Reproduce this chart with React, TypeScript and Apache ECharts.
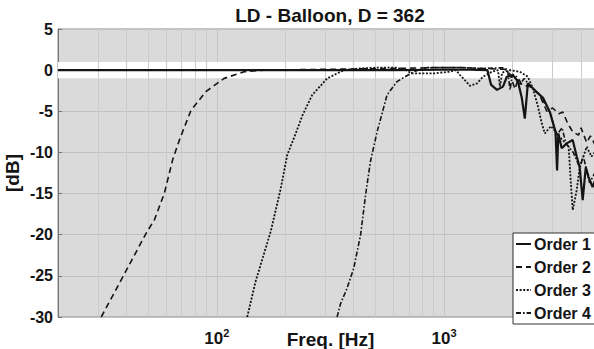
import React, { useEffect, useRef } from "react";
import * as echarts from "echarts";

const TITLE = "LD - Balloon, D = 362";
const SERIES_NAMES = ["Order 1", "Order 2", "Order 3", "Order 4"];

const FREQ_1 = [20, 100, 300, 600, 1000, 1300, 1550, 1610, 1708, 1815, 1888, 2008, 2113, 2197, 2265, 2335, 2540, 2730, 2920, 3090, 3140, 3180, 3290, 3461, 3679, 3831, 3947, 4070, 4200, 4320, 4500, 4600];
const DB_1 = [0, 0, 0, 0, 0.05, 0.05, 0, -1.8, -2.4, -2.0, -0.8, -0.6, -1.4, -3.4, -5.9, -1.6, -2.6, -3.4, -5.1, -7.5, -12.2, -7.7, -9.5, -8.9, -8.5, -10.5, -11.8, -15.8, -11.8, -13.0, -14.2, -13.5];

const FREQ_2 = [31.0, 38.6, 48.9, 53.1, 58.7, 63.9, 68.4, 76.9, 89.5, 107.6, 131.8, 160.7, 300, 600, 900, 1200, 1500, 1850, 1950, 2050, 2120, 2200, 2400, 2630, 2830, 3000, 3200, 3330, 3500, 3680, 3900, 4000, 4240, 4400, 4600];
const DB_2 = [-30, -25.1, -19.8, -18.2, -15.0, -10.9, -8.5, -4.9, -2.6, -1.0, -0.2, 0, 0.1, 0.2, 0.3, 0.3, 0.2, 0.1, -0.5, -2.3, -1.0, -1.8, -2.0, -3.0, -5.0, -4.6, -5.3, -5.1, -6.5, -7.5, -7.9, -7.0, -8.8, -8.0, -9.0];

const FREQ_3 = [136, 148, 172.6, 191, 204, 218, 238, 263, 306, 362, 420, 500, 620, 680, 720, 900, 1050, 1130, 1175, 1300, 1396, 1483, 1620, 1726, 1760, 1800, 1945, 2153, 2335, 2454, 2581, 2680, 2773, 2950, 3200, 3530, 3610, 3680, 3830, 3950, 4240, 4450, 4600];
const DB_3 = [-30, -25.7, -19.6, -14.4, -10.3, -8.3, -5.5, -3.0, -1.0, 0, 0.2, 0.3, 0.3, 0.0, -0.4, -0.4, -0.2, 0, -0.6, -1.9, -1.6, -0.8, -0.2, 0, -2.0, -0.3, 0, -0.2, -0.8, -2.2, -4.3, -6.3, -7.7, -6.8, -8.0, -9.3, -13.7, -17.0, -14.6, -11.8, -9.3, -10.5, -10.0];

const FREQ_4 = [338, 350, 374, 400, 429, 451, 474, 507, 561, 620, 733, 839, 1000, 1200, 1500, 1800, 1900, 1950, 2000, 2084, 2150, 2250, 2427, 2634, 2918, 3131, 3300, 3435, 3700, 3947, 4100, 4365, 4600];
const DB_4 = [-30, -28.4, -26.5, -24.1, -20.0, -15.2, -11.1, -7.5, -3.0, -1.4, -0.2, 0.3, 0.3, 0.3, 0.2, 0.3, 0.1, -2.4, -0.5, -0.8, -1.8, -1.0, -2.2, -3.0, -5.1, -7.9, -7.0, -8.9, -10.0, -11.8, -10.5, -13.7, -12.5];

const MINOR_GRID_FREQS = [30, 40, 50, 60, 70, 80, 90, 200, 300, 400, 500, 600, 700, 800, 900, 2000, 3000, 4000];

const X_MIN = 20;
const X_MAX = 5000;
const Y_MIN = -30;
const Y_MAX = 5;
const Y_STEP = 5;

const FONT = "'Liberation Sans', Arial, sans-serif";
const INK = "#141414";

function pairs(f: number[], d: number[]) {
  return f.map((v, i) => [v, d[i]]);
}

export default function App() {
  const ref = useRef<HTMLDivElement>(null);
  useEffect(() => {
    if (!ref.current) return;
    const chart = echarts.init(ref.current, undefined, { renderer: "svg" });
    const dashes: any[] = ["solid", [6, 4], [2, 1.6], [5, 2, 1.6, 2]];
    const widths = [2.2, 1.6, 1.8, 1.6];
    const all = [pairs(FREQ_1, DB_1), pairs(FREQ_2, DB_2), pairs(FREQ_3, DB_3), pairs(FREQ_4, DB_4)];
    const series: any[] = all.map((data, i) => ({
      type: "line",
      name: SERIES_NAMES[i],
      data,
      symbol: "none",
      z: 3 + i,
      lineStyle: { color: INK, width: widths[i], type: dashes[i] },
      itemStyle: { color: INK },
    }));
    series[0].markArea = {
      silent: true,
      z: 1,
      itemStyle: { color: "#ffffff" },
      data: [[{ yAxis: -1 }, { yAxis: 1 }]],
    };
    series[0].markLine = {
      silent: true,
      z: 1,
      symbol: "none",
      label: { show: false },
      lineStyle: { color: "#cbcbcb", width: 1, type: "solid" },
      data: MINOR_GRID_FREQS.map((v) => ({ xAxis: v })),
    };
    chart.setOption({
      animation: false,
      title: {
        text: TITLE,
        left: 330,
        top: 6,
        padding: 0,
        textAlign: "center",
        textStyle: { fontFamily: FONT, fontSize: 19, fontWeight: "bold", color: INK },
      },
      legend: {
        orient: "vertical",
        left: 513,
        top: 233,
        data: SERIES_NAMES,
        backgroundColor: "#ffffff",
        borderColor: "#333",
        borderWidth: 1,
        borderRadius: 0,
        padding: [3, 4, 3, 2],
        itemWidth: 15,
        itemHeight: 12,
        itemGap: 7,
        itemStyle: { opacity: 0, color: "transparent", borderWidth: 0 },
        textStyle: { fontFamily: FONT, fontSize: 16, fontWeight: "bold", color: INK, padding: [0, 0, 0, -2] },
      },
      grid: {
        left: 58,
        top: 29,
        bottom: 32,
        right: -9,
        outerBoundsMode: "none",
        containLabel: false,
        show: true,
        backgroundColor: "#dadada",
        borderColor: "#8a8a8a",
        borderWidth: 1,
      },
      xAxis: {
        type: "log",
        logBase: 10,
        min: X_MIN,
        max: X_MAX,
        name: "Freq. [Hz]",
        nameLocation: "middle",
        nameGap: 13,
        nameMoveOverlap: false,
        nameTextStyle: { fontFamily: FONT, fontSize: 19, fontWeight: "bold", color: INK },
        axisLine: { lineStyle: { color: "#777" } },
        axisTick: { inside: true, length: 4, lineStyle: { color: "#777" } },
        splitLine: { show: true, lineStyle: { color: "#c4c4c4" } },
        axisLabel: {
          margin: 10,
          formatter: (v: number) => {
            const e = Math.log10(v);
            if (Math.abs(e - Math.round(e)) < 1e-6) return "{b|10}{s|" + Math.round(e) + "}";
            return "";
          },
          rich: {
            b: { fontFamily: FONT, fontSize: 17, fontWeight: "bold", color: INK, verticalAlign: "bottom" },
            s: { fontFamily: FONT, fontSize: 11, fontWeight: "bold", color: INK, verticalAlign: "bottom", padding: [0, 0, 9, 0] },
          },
        },
      },
      yAxis: {
        type: "value",
        min: Y_MIN,
        max: Y_MAX,
        interval: Y_STEP,
        name: "[dB]",
        nameLocation: "middle",
        nameGap: 36,
        nameMoveOverlap: false,
        nameTextStyle: { fontFamily: FONT, fontSize: 19, fontWeight: "bold", color: INK },
        axisLine: { show: true, lineStyle: { color: "#777" } },
        axisTick: { show: true, inside: true, length: 4, lineStyle: { color: "#777" } },
        splitLine: { show: true, lineStyle: { color: "#c2c2c2" } },
        axisLabel: { fontFamily: FONT, fontSize: 16, fontWeight: "bold", color: INK, margin: 5 },
      },
      series,
    });
    return () => chart.dispose();
  }, []);
  return (
    <div
      ref={ref}
      style={{ position: "fixed", left: 0, top: 0, width: 594, height: 349, background: "#ffffff" }}
    />
  );
}
